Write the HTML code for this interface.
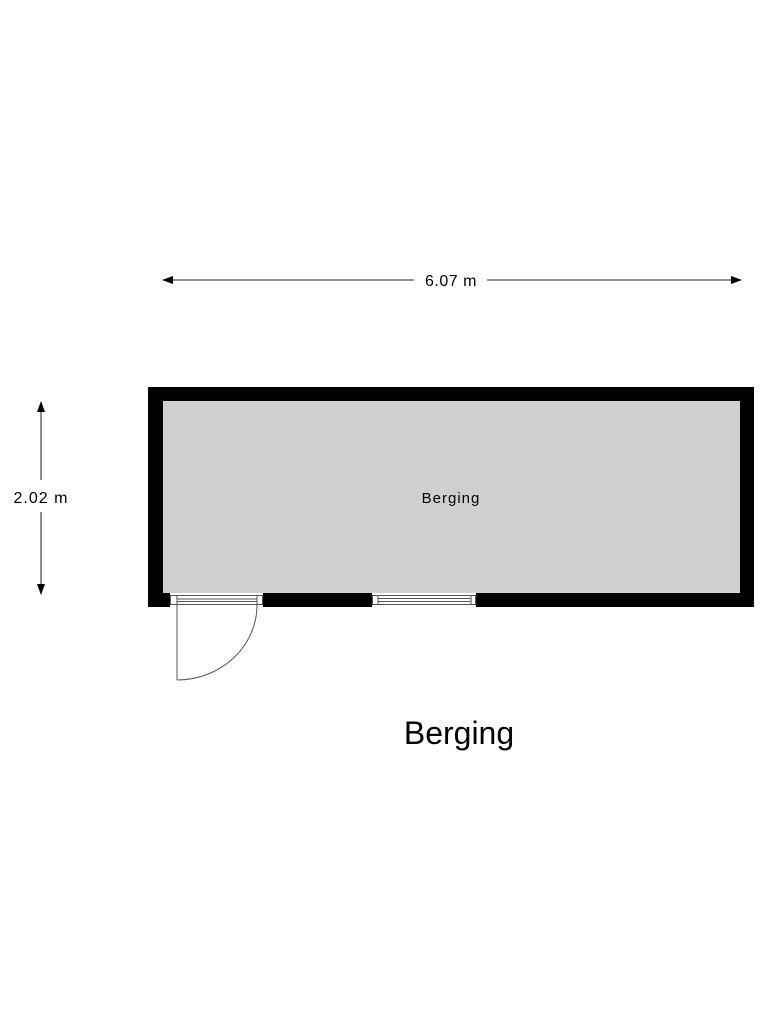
<!DOCTYPE html>
<html><head><style>body{margin:0;background:#fff}</style></head><body>
<svg width="768" height="1024" xmlns="http://www.w3.org/2000/svg" font-family="Liberation Sans, sans-serif">
<rect width="768" height="1024" fill="#fff"/>
<!-- top dimension -->
<line x1="170" y1="280" x2="414" y2="280" stroke="#555" stroke-width="1.3"/>
<line x1="487" y1="280" x2="734" y2="280" stroke="#555" stroke-width="1.3"/>
<polygon points="162,280 173,276 173,284" fill="#000"/>
<polygon points="742,280 731,276 731,284" fill="#000"/>
<text x="451" y="286" font-size="16" letter-spacing="0.5" text-anchor="middle">6.07 m</text>
<!-- left dimension -->
<line x1="41" y1="410" x2="41" y2="480" stroke="#555" stroke-width="1.3"/>
<line x1="41" y1="512" x2="41" y2="586" stroke="#555" stroke-width="1.3"/>
<polygon points="41,401 37,412 45,412" fill="#000"/>
<polygon points="41,595 37,584 45,584" fill="#000"/>
<text x="41" y="503" font-size="16" letter-spacing="1" text-anchor="middle">2.02 m</text>
<!-- room -->
<rect x="148" y="387" width="606" height="220" fill="#000"/>
<rect x="163" y="401" width="577" height="192" fill="#d0d0d0"/>
<!-- openings -->
<rect x="170" y="593" width="93" height="15" fill="#fff"/>
<rect x="372" y="593" width="104" height="15" fill="#fff"/>
<g fill="none" stroke="#555" stroke-width="1">
<rect x="170.5" y="595.5" width="92" height="9"/>
<line x1="177" y1="595.5" x2="177" y2="604.5"/>
<line x1="257" y1="595.5" x2="257" y2="604.5"/>
<line x1="177" y1="599" x2="257" y2="599"/>
<line x1="177" y1="601.5" x2="257" y2="601.5"/>
<rect x="372.5" y="595.5" width="103" height="9"/>
<line x1="378" y1="595.5" x2="378" y2="604.5"/>
<line x1="471" y1="595.5" x2="471" y2="604.5"/>
<line x1="378" y1="598.5" x2="471" y2="598.5"/>
<line x1="378" y1="601.5" x2="471" y2="601.5"/>
<line x1="177" y1="605" x2="177" y2="680"/>
<path d="M177 680 A80 75 0 0 0 257 605"/>
</g>
<text x="451" y="503" font-size="15" letter-spacing="1" text-anchor="middle">Berging</text>
<text x="459" y="744" font-size="32" text-anchor="middle">Berging</text>
</svg>
</body></html>
